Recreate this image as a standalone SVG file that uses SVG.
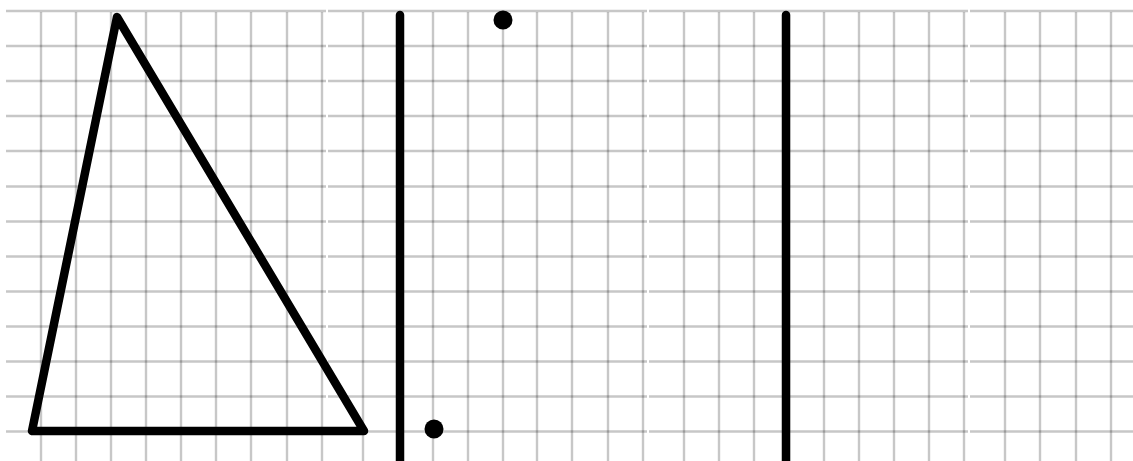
<svg xmlns="http://www.w3.org/2000/svg" width="1133" height="461" viewBox="0 0 1133 461">
<style>
.grid{fill:none;stroke:#000;stroke-opacity:0.22;stroke-width:2.4}
.ink{fill:none;stroke:#000;stroke-width:8.5;stroke-linecap:round;stroke-linejoin:round}
.dot{fill:#000}
</style>
<rect width="1133" height="461" fill="#fff"/>
<g id="grid">
<path class="grid" d="M6 11H326M328 11H647M649 11H968M970 11H1133
M6 46H326M328 46H647M649 46H968M970 46H1133
M6 81H326M328 81H647M649 81H968M970 81H1133
M6 116H326M328 116H647M649 116H968M970 116H1133
M6 151H326M328 151H647M649 151H968M970 151H1133
M6 186.5H326M328 186.5H647M649 186.5H968M970 186.5H1133
M6 221.5H326M328 221.5H647M649 221.5H968M970 221.5H1133
M6 256.5H326M328 256.5H647M649 256.5H968M970 256.5H1133
M6 291.5H326M328 291.5H647M649 291.5H968M970 291.5H1133
M6 326.5H326M328 326.5H647M649 326.5H968M970 326.5H1133
M6 361.5H326M328 361.5H647M649 361.5H968M970 361.5H1133
M6 396.5H326M328 396.5H647M649 396.5H968M970 396.5H1133
M6 431.5H326M328 431.5H647M649 431.5H968M970 431.5H1133"/>
<path class="grid" d="M41 12V461M76 12V461M111 12V461M146 12V461M181 12V461M216 12V461M251 12V461M287 12V461M322 12V461
M363 12V461M398 12V461M433 12V461M468 12V461M503 12V461M537 12V461M572 12V461M608 12V461M643 12V461
M684 12V461M719 12V461M754 12V461M789 12V461M824 12V461M859 12V461M894 12V461M929 12V461M964 12V461
M1005 12V461M1040 12V461M1076 12V461M1111 12V461"/>
</g>
<g id="triangle">
<path class="ink" d="M117 17L32 431H364Z"/>
</g>
<g id="divider-1">
<path class="ink" d="M400 15V465"/>
</g>
<g id="divider-2">
<path class="ink" d="M786 15V465"/>
</g>
<g id="point-bottom">
<circle class="dot" cx="434" cy="429" r="9.5"/>
</g>
<g id="point-top">
<circle class="dot" cx="503" cy="20" r="9.5"/>
</g>
</svg>
